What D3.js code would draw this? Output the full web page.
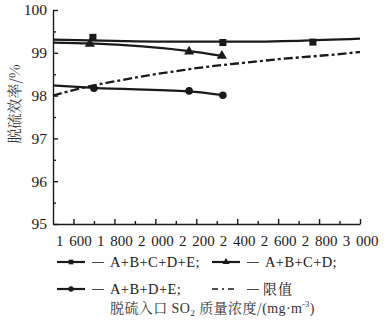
<!DOCTYPE html>
<html><head><meta charset="utf-8">
<script src="https://cdn.jsdelivr.net/npm/d3@7"></script>
<style>body{margin:0;background:#fff;}</style></head>
<body><svg id="c" width="389" height="324"></svg>
<script>
// ---- data ----
const xTicks = [1600,1800,2000,2200,2400,2600,2800,3000];
const xTickLabels = ["1 600","1 800","2 000","2 200","2 400","2 600","2 800","3 000"];
const xMinorTicks = [1700,1900,2100,2300,2500,2700,2900];
const yTicks = [95,96,97,98,99,100];
const yMinorTicks = [95.5,96.5,97.5,98.5,99.5];

// markers (measured points)
const sqX = [1695,2330,2770];
const sqY = [99.36,99.24,99.25];
const triX = [1680,2165,2325];
const triY = [99.21,99.03,98.93];
const cirX = [1700,2165,2330];
const cirY = [98.17,98.11,98.01];

// fitted curves
const sqFitX = [1500,1800,2100,2400,2700,3000];
const sqFitY = [99.31,99.28,99.26,99.26,99.28,99.33];
const triFitX = [1500,1680,2165,2325];
const triFitY = [99.24,99.22,99.04,98.93];
const cirFitX = [1500,1700,2165,2330];
const cirFitY = [98.24,98.18,98.10,98.01];

// limit value curve
const limX = [1500,1600,1700,1800,1900,2000,2100,2200,2300,2400,2500,2600,2700,2800,2900,3000];
const limY = [98.00,98.13,98.24,98.33,98.42,98.50,98.57,98.64,98.70,98.75,98.80,98.85,98.89,98.93,98.97,99.02];

const legendLabels = ["A+B+C+D+E;","A+B+C+D;","A+B+D+E;","限值"];
const xTitleParts = [["脱硫入口 ","cjk"],["SO","lat"],["2","sub"],[" 质量浓度/","cjk"],["(mg·m","lat"],["-3","sup"],[")","lat"]];
const yTitle = "脱硫效率/%";

// ---- drawing ----
const svg = d3.select("#c");
const ink = "#1a1a1a";
const SERIF = '"Liberation Serif"';
const CJK = '"Noto Serif CJK SC"';

const x = d3.scaleLinear().domain([1500,3000]).range([53,360]);
const y = d3.scaleLinear().domain([95,100]).range([224,10]);

// x axis
const gx = svg.append("g").attr("transform","translate(0,224)");
gx.call(d3.axisBottom(x).tickValues(xTicks).tickSize(-5).tickSizeOuter(0)
  .tickFormat((d,i)=>xTickLabels[i]).tickPadding(11));
gx.append("g").call(d3.axisBottom(x).tickValues(xMinorTicks).tickSize(-3).tickFormat(""))
  .select(".domain").remove();
gx.selectAll("path,line").attr("stroke",ink).attr("stroke-width",1.4);
gx.selectAll("text").style("font-family",SERIF).style("font-size","15px").attr("fill",ink)
  .style("word-spacing","2px");

// y axis
const gy = svg.append("g").attr("transform","translate(53,0)");
gy.call(d3.axisLeft(y).tickValues(yTicks).tickSize(-5).tickSizeOuter(0)
  .tickFormat(d3.format("d")).tickPadding(6));
gy.append("g").call(d3.axisLeft(y).tickValues(yMinorTicks).tickSize(-3).tickFormat(""))
  .select(".domain").remove();
gy.selectAll("path,line").attr("stroke",ink).attr("stroke-width",1.4);
gy.selectAll("text").style("font-family",SERIF).style("font-size","15.5px").attr("fill",ink);

// y title
svg.append("text").attr("transform","translate(20,104) rotate(-90)")
  .attr("text-anchor","middle").style("font-family",CJK).style("font-size","15px")
  .attr("fill","#333").text(yTitle);

const line = (xs,ys,curve)=>d3.line().x((d,i)=>x(xs[i])).y((d,i)=>y(ys[i])).curve(curve)(xs);

svg.append("path").attr("d",line(limX,limY,d3.curveMonotoneX)).attr("fill","none")
  .attr("stroke",ink).attr("stroke-width",2.3).attr("stroke-dasharray","9,3,3,3");
svg.append("path").attr("d",line(sqFitX,sqFitY,d3.curveMonotoneX)).attr("fill","none")
  .attr("stroke",ink).attr("stroke-width",2.3);
svg.append("path").attr("d",line(triFitX,triFitY,d3.curveMonotoneX)).attr("fill","none")
  .attr("stroke",ink).attr("stroke-width",2.3);
svg.append("path").attr("d",line(cirFitX,cirFitY,d3.curveMonotoneX)).attr("fill","none")
  .attr("stroke",ink).attr("stroke-width",2.3);

const sym = (type,size)=>d3.symbol().type(type).size(size)();
svg.selectAll(".sq").data(sqX).join("path")
  .attr("transform",(d,i)=>`translate(${x(d)},${y(sqY[i])})`)
  .attr("d",sym(d3.symbolSquare,50)).attr("fill",ink);
svg.selectAll(".tr").data(triX).join("path")
  .attr("transform",(d,i)=>`translate(${x(d)},${y(triY[i])})`)
  .attr("d",sym(d3.symbolTriangle,45)).attr("fill",ink);
svg.selectAll(".ci").data(cirX).join("path")
  .attr("transform",(d,i)=>`translate(${x(d)},${y(cirY[i])})`)
  .attr("d",sym(d3.symbolCircle,45)).attr("fill",ink);

// legend
const legPos = [[57,262],[212,262],[57,289],[212,289]];
const legSyms = [d3.symbolSquare,d3.symbolTriangle,d3.symbolCircle,null];
legPos.forEach((p,i)=>{
  const g = svg.append("g").attr("transform",`translate(${p[0]},${p[1]})`);
  g.append("line").attr("x1",0).attr("x2",i===3?25:28).attr("y1",0).attr("y2",0)
    .attr("stroke",ink).attr("stroke-width",i===3?1.6:2.2)
    .attr("stroke-dasharray",i===3?"6,4,2,4":null);
  if(legSyms[i]) g.append("path").attr("transform",`translate(14,0)`)
    .attr("d",sym(legSyms[i],22)).attr("fill",ink);
  g.append("line").attr("x1",35).attr("x2",47).attr("y1",0.5).attr("y2",0.5)
    .attr("stroke","#333").attr("stroke-width",0.9);
  g.append("text").attr("x",i===3?51:53).attr("y",5)
    .style("font-family",i===3?CJK:SERIF).style("font-size",i===3?"14px":"14.5px")
    .style("letter-spacing",i===3?"1px":"0.4px").attr("fill",ink)
    .text(legendLabels[i]);
});

// x title
const tt = svg.append("text").attr("x",110).attr("y",313).attr("fill","#333")
  .style("font-size","14px").style("letter-spacing","0.4px");
xTitleParts.forEach(([s,k])=>{
  const t = tt.append("tspan").text(s)
    .style("font-family",k==="cjk"?CJK:SERIF);
  if(k==="sub") t.style("font-size","9px").attr("dy",3);
  else if(k==="sup") t.style("font-size","8px").attr("dy",-6);
  else if(k==="lat" && s===")") t.attr("dy",6);
  else if(k==="cjk" && s.startsWith(" ")) t.attr("dy",-3);
});
</script></body></html>
